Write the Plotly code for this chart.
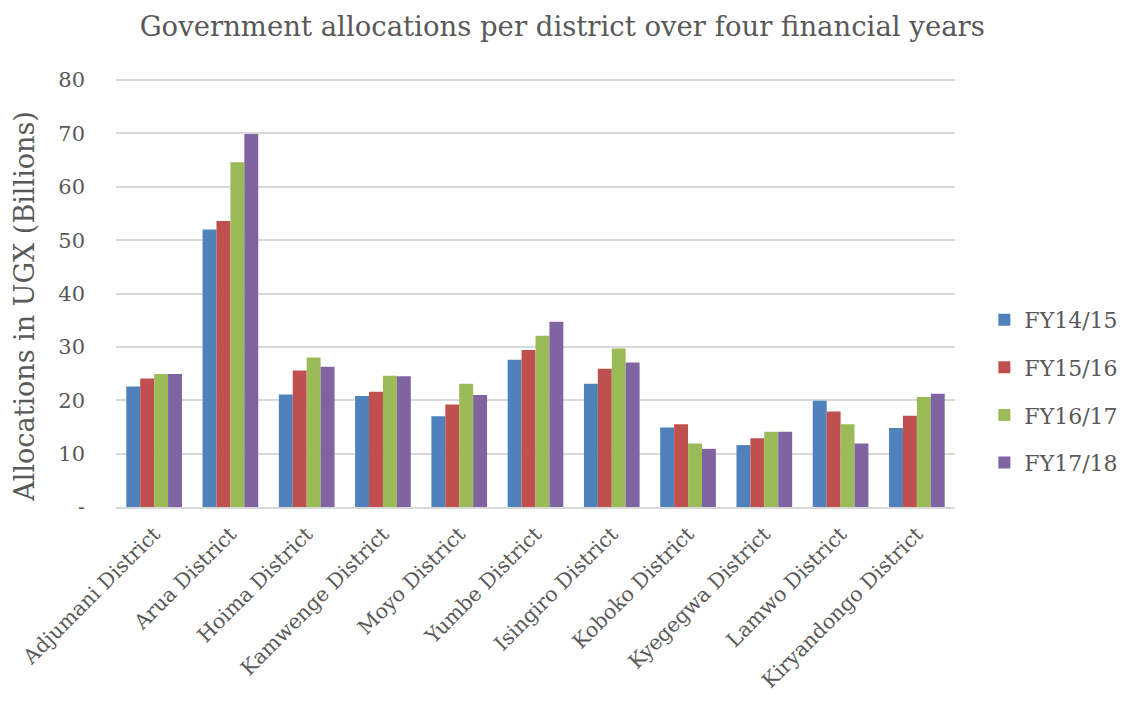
import plotly.graph_objects as go

districts = ["Adjumani District", "Arua District", "Hoima District", "Kamwenge District",
             "Moyo District", "Yumbe District", "Isingiro District", "Koboko District",
             "Kyegegwa District", "Lamwo District", "Kiryandongo District"]
fy1415 = [22.6, 52.0, 21.1, 20.8, 17.0, 27.6, 23.1, 14.9, 11.6, 19.9, 14.8]
fy1516 = [24.1, 53.6, 25.6, 21.6, 19.2, 29.4, 25.9, 15.5, 12.9, 17.9, 17.1]
fy1617 = [24.9, 64.6, 28.0, 24.6, 23.1, 32.1, 29.7, 11.9, 14.1, 15.5, 20.6]
fy1718 = [24.9, 69.9, 26.3, 24.5, 21.0, 34.7, 27.1, 10.9, 14.1, 11.9, 21.2]
series_names = ["FY14/15", "FY15/16", "FY16/17", "FY17/18"]
colors = ["#4F81BD", "#C0504D", "#9BBB59", "#8064A2"]
tick_vals = [0, 10, 20, 30, 40, 50, 60, 70, 80]
tick_text = ["-", "10", "20", "30", "40", "50", "60", "70", "80"]
y_title = "Allocations in UGX (Billions)"
chart_title = "Government allocations per district over four financial years"

FONT = "DejaVu Serif"
GREY = "#595959"

fig = go.Figure()
for name, vals, c in zip(series_names, [fy1415, fy1516, fy1617, fy1718], colors):
    fig.add_trace(go.Bar(name=name, x=districts, y=vals, legendgroup=name,
                         marker=dict(color=c, line=dict(width=0))))

fig.update_layout(
    barmode="group",
    bargap=0.27,
    bargroupgap=0,
    width=1129, height=710,
    paper_bgcolor="white", plot_bgcolor="white",
    margin=dict(l=116, r=174, t=79, b=203, autoexpand=False),
    font=dict(family=FONT, color=GREY, size=18),
    title=dict(text=chart_title,
               x=0.498, xref="container", xanchor="center", y=0.963, yref="container",
               yanchor="middle", font=dict(family=FONT, size=27.5, color=GREY)),
    legend=dict(x=1.035, xanchor="left", y=0.27, yanchor="middle",
                font=dict(family=FONT, size=22, color=GREY),
                itemsizing="constant", tracegroupgap=16, itemwidth=30),
    showlegend=True,
    annotations=[dict(text=y_title, xref="paper", yref="paper",
                      x=(25 - 116) / 839, y=0.468, xanchor="center", yanchor="middle",
                      textangle=-90, showarrow=False,
                      font=dict(family=FONT, size=27, color=GREY))],
)
fig.update_yaxes(range=[0, 80.2], tickvals=tick_vals, ticktext=tick_text,
                 showgrid=True, gridcolor="#D9D9D9", gridwidth=2,
                 zeroline=False, showline=False, ticks="", ticklabelstandoff=30,
                 tickfont=dict(family=FONT, size=21, color=GREY))
fig.update_xaxes(showline=True, linecolor="#D9D9D9", linewidth=2, ticks="",
                 tickangle=-45, ticklabelstandoff=5,
                 tickfont=dict(family=FONT, size=20.5, color=GREY))

fig.write_html("out.html")
